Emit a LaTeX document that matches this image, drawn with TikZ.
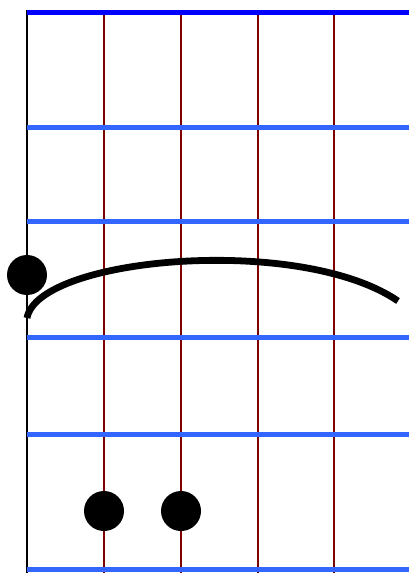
\documentclass[tikz,border=0pt]{standalone}
\definecolor{NutBlue}{HTML}{0000FF}
\definecolor{FretBlue}{HTML}{3366FF}
\definecolor{StringRed}{HTML}{800000}

\begin{document}
\begin{tikzpicture}[x=0.03cm,y=-0.03cm,line cap=butt]
  \useasboundingbox (0,0) rectangle (409,573);
  % strings
  \draw[black,line width=1.7pt] (27,10) -- (27,573);
  \foreach \sx in {104,181,258,334}
    \draw[StringRed,line width=1.7pt] (\sx,12) -- (\sx,573);
  % frets
  \draw[NutBlue,line width=4.3pt] (27,12.5) -- (409,12.5);
  \foreach \fy in {127.5,221.5,337.5,434.5,569.5}
    \draw[FretBlue,line width=4pt] (27,\fy) -- (409,\fy);
  % barre
  \draw[black,line width=5.8pt] (27,318) .. controls (38,257) and (300,234) .. (398,301);
  % fingers
  \fill[black] (27,275) circle (20);
  \fill[black] (104,511) circle (20);
  \fill[black] (181,511) circle (20);
\end{tikzpicture}
\end{document}
